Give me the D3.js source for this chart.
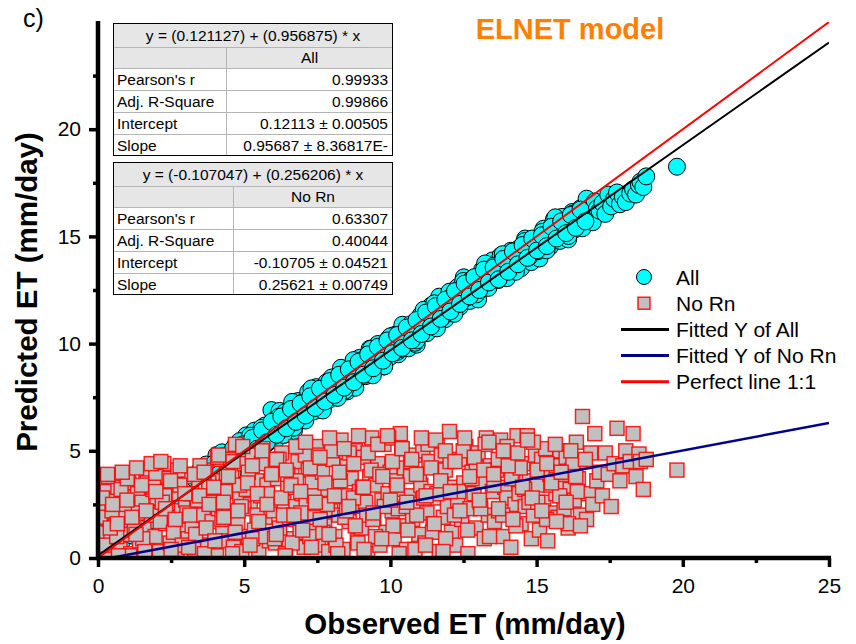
<!DOCTYPE html>
<html>
<head>
<meta charset="utf-8">
<script src="https://cdn.jsdelivr.net/npm/d3@7"></script>
<style>
  body { margin: 0; background: #fff; }
  svg { font-family: Arial, "Liberation Sans", sans-serif; }
</style>
</head>
<body>
<svg id="chart"></svg>
<script>
// observed ET, predicted ET with all inputs, predicted ET without Rn
const observed = [
  0.05, 0.12, 0.18, 0.25, 0.31, 0.38, 0.44, 0.52, 0.60, 0.68,
  0.75, 0.82, 0.90, 0.97, 1.05, 1.12, 1.20, 1.27, 1.35, 1.42,
  1.50, 1.57, 1.64, 1.72, 1.80, 1.87, 1.95, 2.02, 2.10, 2.18,
  2.25, 2.32, 2.40, 2.47, 2.55, 2.62, 2.70, 2.77, 2.85, 2.92,
  3.00, 3.08, 3.15, 3.22, 3.30, 3.38, 3.45, 3.52, 3.60, 3.68,
  3.75, 3.82, 3.90, 3.97, 4.05, 4.12, 4.20, 4.27, 4.35, 4.42,
  4.50, 4.57, 4.63, 4.70, 4.78, 4.85, 4.92, 5.00, 5.07, 5.14,
  5.21, 5.28, 5.35, 5.42, 5.50, 5.57, 5.64, 5.71, 5.78, 5.86,
  5.93, 6.00, 6.07, 6.14, 6.21, 6.28, 6.35, 6.42, 6.49, 6.56,
  6.63, 6.70, 6.77, 6.84, 6.91, 6.98, 7.05, 7.12, 7.19, 7.26,
  7.33, 7.40, 7.47, 7.54, 7.61, 7.68, 7.75, 7.82, 7.89, 7.96,
  8.03, 8.10, 8.17, 8.24, 8.31, 8.38, 8.45, 8.52, 8.59, 8.66,
  8.73, 8.80, 8.87, 8.94, 9.01, 9.08, 9.15, 9.22, 9.29, 9.36,
  9.43, 9.50, 9.57, 9.64, 9.71, 9.78, 9.85, 9.92, 9.99, 10.06,
  10.13, 10.20, 10.27, 10.34, 10.41, 10.48, 10.55, 10.62, 10.69, 10.76,
  10.83, 10.90, 10.97, 11.04, 11.11, 11.18, 11.25, 11.32, 11.39, 11.46,
  11.53, 11.60, 11.67, 11.74, 11.81, 11.88, 11.95, 12.02, 12.09, 12.16,
  12.23, 12.30, 12.37, 12.44, 12.51, 12.58, 12.65, 12.72, 12.79, 12.86,
  12.93, 13.00, 13.07, 13.14, 13.21, 13.28, 13.35, 13.42, 13.49, 13.56,
  13.63, 13.70, 13.77, 13.84, 13.91, 13.98, 14.05, 14.12, 14.19, 14.26,
  14.33, 14.40, 14.47, 14.54, 14.61, 14.68, 14.75, 14.82, 14.89, 14.96,
  15.03, 15.10, 15.17, 15.24, 15.31, 15.38, 15.45, 15.52, 15.59, 15.66,
  15.73, 15.80, 15.87, 15.94, 16.01, 16.08, 16.15, 16.22, 16.29, 16.36,
  16.43, 16.50, 16.57, 16.64, 16.71, 16.78, 16.85, 16.92, 16.99, 17.06,
  17.15, 17.25, 17.35, 17.45, 17.55, 17.65, 17.75, 17.85, 17.95, 18.05,
  18.20, 18.30, 18.40, 18.50, 18.55, 18.65, 18.75, 19.80,
  0.08, 0.22, 0.35, 0.48, 0.64, 0.79, 0.93, 1.08, 1.24, 1.38,
  1.53, 1.68, 1.83, 1.98, 2.13, 2.28, 2.43, 2.58, 2.73, 2.88,
  3.04, 3.19, 3.34, 3.49, 3.64, 3.79, 3.94, 4.09, 4.24, 4.39,
  4.54, 4.69, 4.84, 4.99, 5.14, 5.29, 5.44, 5.59, 5.74, 5.89,
  6.04, 6.19, 6.34, 6.49, 6.64, 6.79, 6.94, 7.09, 7.24, 7.39,
  7.54, 7.69, 7.84, 7.99, 8.14, 8.29, 8.44, 8.59, 8.74, 8.89,
  9.04, 9.19, 9.34, 9.49, 9.64, 9.79, 9.94, 10.09, 10.24, 10.39,
  10.54, 10.69, 10.84, 10.99, 11.14, 11.29, 11.44, 11.59, 11.74, 11.89,
  12.04, 12.19, 12.34, 12.49, 12.64, 12.79, 12.94, 13.09, 13.24, 13.39,
  13.54, 13.69, 13.84, 13.99, 14.14, 14.29, 14.44, 14.59, 14.74, 14.89,
  15.04, 15.19, 15.34, 15.49, 15.64, 15.79, 15.94, 16.09, 16.24, 16.39,
  0.15, 0.42, 0.70, 1.00, 1.30, 1.60, 1.90, 2.20, 2.50, 2.80,
  3.10, 3.40, 3.70, 4.00, 4.30, 4.60, 4.90, 5.20, 5.50, 5.80,
  6.10, 6.40, 6.70, 7.00, 7.30, 7.60, 7.90, 8.20, 8.50, 8.80,
  9.10, 9.40, 9.70, 10.00, 10.30, 10.60, 10.90, 11.20, 11.50, 11.80,
  0.33, 0.50, 0.66, 0.83, 0.99, 1.16, 1.32, 1.49, 1.65, 1.82,
  1.98, 2.15, 2.31, 2.48, 2.64, 2.81, 2.97, 3.14, 3.30, 3.47,
  3.63, 3.80, 3.96, 4.13, 4.29, 4.46, 4.62, 4.79, 4.95, 5.12,
  5.28, 5.45, 5.61, 5.78, 5.94, 6.11, 6.27, 6.44, 6.60, 6.77,
  6.93, 7.10, 7.26, 7.43, 7.59, 7.76, 7.92, 8.09, 8.25, 8.42,
  8.58, 8.75, 8.91, 9.08, 9.24, 9.41, 9.57, 9.74, 9.90, 10.07,
  10.23, 10.40, 10.56, 10.73, 10.89, 11.06, 11.22, 11.39, 11.55, 11.72,
  11.88, 12.05, 12.21, 12.38, 12.54, 12.71, 12.87, 13.04, 13.20, 13.37,
  13.53, 13.70, 13.86, 14.03, 14.19, 14.36, 14.52, 14.69, 14.85, 15.02,
  15.18, 15.35, 15.51, 15.68, 15.84, 16.01, 16.17, 16.34, 16.50, 16.67
];

const predAll = [
  0.17, 0.25, 0.31, 0.36, 0.44, 0.47, 0.55, 0.63, 0.70, 0.78,
  0.86, 0.90, 1.00, 1.07, 1.14, 1.20, 1.28, 1.36, 1.42, 1.50,
  1.56, 1.64, 1.70, 1.79, 1.86, 1.92, 2.00, 2.07, 2.14, 2.23,
  2.30, 2.36, 2.46, 2.52, 2.58, 2.66, 2.74, 2.80, 2.88, 2.95,
  3.44, 2.72, 3.84, 3.05, 3.53, 2.81, 3.52, 4.09, 3.27, 3.84,
  3.51, 4.33, 3.40, 4.27, 4.80, 3.96, 4.29, 3.71, 4.68, 4.35,
  4.73, 3.89, 4.60, 5.27, 4.45, 5.21, 4.43, 5.11, 5.72, 4.89,
  5.56, 4.82, 5.94, 5.16, 5.63, 4.90, 5.62, 6.18, 5.35, 5.93,
  6.90, 6.41, 5.48, 6.35, 6.86, 6.03, 6.35, 5.76, 6.73, 6.40,
  6.77, 5.93, 6.65, 7.32, 6.48, 7.25, 6.47, 7.13, 7.75, 6.92,
  7.59, 6.85, 7.97, 7.19, 7.65, 6.92, 7.64, 8.20, 7.37, 7.94,
  7.61, 8.42, 7.49, 8.36, 8.87, 8.04, 8.36, 7.77, 8.74, 8.41,
  8.78, 7.94, 8.66, 9.33, 8.49, 9.26, 8.48, 9.14, 9.76, 8.93,
  9.59, 8.86, 9.98, 9.20, 9.66, 8.93, 9.65, 10.21, 9.38, 9.95,
  9.61, 10.43, 9.50, 10.37, 10.88, 10.05, 10.37, 9.78, 10.75, 10.42,
  10.78, 9.95, 10.67, 11.34, 10.50, 11.27, 10.49, 11.15, 11.77, 10.94,
  11.80, 11.07, 12.19, 11.41, 11.87, 11.14, 11.86, 12.42, 11.59, 12.16,
  11.82, 12.64, 11.71, 12.58, 13.09, 12.26, 12.58, 11.99, 12.96, 12.63,
  12.89, 12.06, 12.78, 13.45, 12.61, 13.38, 12.60, 13.26, 13.88, 13.05,
  13.71, 12.98, 14.10, 13.32, 13.78, 13.05, 13.77, 14.33, 13.50, 14.07,
  13.63, 14.45, 13.52, 14.39, 14.90, 14.07, 14.39, 13.80, 14.77, 14.44,
  14.80, 13.97, 14.69, 15.36, 14.52, 15.29, 14.51, 15.17, 15.79, 14.96,
  15.52, 14.79, 15.91, 15.12, 15.59, 14.86, 15.58, 16.14, 15.31, 15.88,
  15.49, 16.31, 15.38, 16.24, 16.76, 15.93, 16.25, 15.66, 16.63, 16.30,
  16.20, 16.55, 16.05, 16.95, 16.40, 16.75, 17.05, 16.50, 16.85, 16.60,
  17.00, 17.20, 16.95, 17.40, 17.55, 17.30, 17.80, 18.25,
  0.20, 0.33, 0.45, 0.58, 0.73, 0.88, 1.02, 1.16, 1.30, 1.45,
  1.60, 1.74, 1.88, 2.03, 2.18, 2.31, 2.45, 2.60, 2.76, 2.90,
  3.33, 2.57, 3.37, 4.11, 3.35, 4.20, 3.49, 4.24, 4.93, 4.17,
  4.92, 4.26, 5.45, 4.75, 5.29, 4.63, 5.43, 6.07, 5.31, 5.96,
  5.70, 6.59, 5.74, 6.68, 7.28, 6.52, 6.91, 6.41, 7.45, 7.19,
  7.64, 6.88, 7.67, 8.42, 7.66, 8.50, 7.80, 8.54, 9.23, 8.48,
  9.22, 8.56, 9.76, 9.05, 9.60, 8.94, 9.73, 10.38, 9.62, 10.26,
  10.01, 10.90, 10.04, 10.99, 11.58, 10.82, 11.22, 10.71, 11.76, 11.50,
  12.14, 11.39, 12.18, 12.92, 12.17, 13.01, 12.30, 13.05, 13.74, 12.98,
  13.63, 12.97, 14.17, 13.46, 14.00, 13.35, 14.14, 14.78, 14.03, 14.67,
  14.31, 15.21, 14.35, 15.29, 15.89, 15.13, 15.52, 15.02, 16.06, 15.81,
  0.27, 0.52, 0.78, 1.08, 1.36, 1.66, 1.94, 2.24, 2.52, 2.80,
  3.54, 3.02, 4.36, 3.80, 4.49, 3.97, 4.91, 5.70, 5.08, 5.87,
  5.76, 6.80, 6.08, 7.17, 7.91, 7.29, 7.83, 7.47, 8.66, 8.54,
  9.13, 8.52, 9.45, 10.34, 9.73, 10.71, 10.15, 11.04, 11.88, 11.26,
  0.60, 0.45, 0.95, 0.80, 1.25, 1.05, 1.55, 1.40, 1.90, 1.75,
  2.20, 1.95, 2.60, 2.30, 2.90, 2.55, 3.35, 2.95, 3.70, 3.30,
  4.05, 3.55, 4.40, 3.90, 4.75, 4.20, 5.10, 4.55, 5.30, 4.85,
  5.60, 5.10, 5.95, 5.40, 6.35, 5.75, 6.60, 6.05, 6.95, 6.35,
  7.20, 6.65, 7.55, 7.00, 7.90, 7.30, 8.25, 7.60, 8.55, 7.95,
  8.80, 8.20, 9.15, 8.55, 9.50, 8.85, 9.85, 9.20, 10.15, 9.55,
  10.40, 9.80, 10.75, 10.15, 11.10, 10.45, 11.45, 10.80, 11.75, 11.15,
  12.05, 11.50, 12.45, 11.85, 12.80, 12.20, 13.10, 12.50, 13.45, 12.85,
  13.55, 13.00, 13.95, 13.35, 14.30, 13.70, 14.60, 14.00, 14.90, 14.35,
  15.05, 14.55, 15.45, 14.90, 15.70, 15.15, 16.00, 15.40, 16.25, 15.70
];

const predNoRn = [
  3.6, 1.2, 2.4, 0.3, 3.1, 1.8, 0.9, 2.7, 1.5, 3.3,
  0.4, 2.0, 2.9, 1.1, 3.5, 0.2, 2.3, 1.7, 3.0, 0.8,
  2.6, 1.4, 4.0, 0.5, 2.1, 3.2, 1.0, 2.8, 0.3, 3.9,
  4.4, 1.6, 2.5, 0.7, 3.4, 1.9, 0.2, 3.0, 2.2, 1.3,
  2.7, 0.9, 3.8, 1.5, 0.4, 2.4, 3.3, 1.1, 2.0, 4.1,
  0.6, 2.9, 1.7, 3.6, 0.1, 2.3, 4.6, 1.2, 3.1, 0.8,
  2.1, 3.9, 0.5, 5.3, 1.6, 2.8, 0.3, 4.4, 3.2, 1.0,
  2.5, 4.8, 1.3, 3.6, 0.4, 2.9, 5.1, 1.9, 3.4, 0.8,
  4.2, 2.2, 0.7, 3.7, 1.4, 4.9, 2.6, 0.2, 3.3, 1.8,
  3.9, 0.9, 2.4, 4.5, 1.2, 3.0, 0.5, 2.7, 4.1, 1.6,
  3.5, 1.9, 5.2, 0.6, 2.8, 4.0, 1.5, 3.2, 0.3, 2.2,
  4.6, 1.0, 3.3, 2.0, 5.5, 0.4, 2.9, 4.3, 1.7, 3.7,
  2.4, 5.0, 0.8, 3.1, 1.4, 4.7, 2.6, 0.2, 3.8, 5.6,
  1.9, 3.4, 4.4, 0.6, 2.7, 5.3, 1.2, 3.0, 4.0, 2.2,
  0.9, 3.6, 2.3, 5.8, 1.5, 4.2, 0.4, 2.9, 3.8, 1.8,
  4.8, 2.5, 1.1, 3.4, 5.0, 0.7, 2.1, 4.5, 3.1, 1.6,
  2.8, 5.4, 0.3, 3.7, 1.9, 4.1, 2.4, 5.9, 1.2, 3.3,
  0.6, 2.7, 4.6, 1.8, 3.5, 5.2, 0.2, 2.3, 4.0, 3.0,
  1.4, 4.9, 2.6, 3.6, 0.9, 5.6, 2.0, 4.3, 3.1, 1.7,
  4.1, 2.2, 5.5, 1.0, 3.3, 2.8, 4.7, 0.5, 3.9, 2.5,
  5.7, 3.0, 1.6, 4.4, 2.4, 5.7, 3.6, 0.9, 2.0, 4.8,
  3.4, 1.3, 4.6, 2.6, 5.1, 0.8, 3.9, 2.1, 4.3, 3.0,
  1.9, 5.0, 3.5, 2.3, 4.7, 1.4, 3.2, 4.1, 2.7, 5.4,
  3.7, 2.0, 6.6, 4.5, 1.8, 3.0, 4.9, 2.5, 5.8, 3.6,
  4.0, 2.9, 4.9, 3.9, 2.4, 4.4, 6.05, 3.6, 4.3, 5.0,
  4.5, 5.8, 3.8, 4.85, 4.5, 3.2, 4.6, 4.1,
  1.9, 0.6, 3.8, 2.2, 1.0, 3.2, 2.5, 0.1, 1.3, 2.1,
  0.9, 3.5, 2.0, 3.8, 1.7, 2.9, 3.7, 1.2, 4.1, 0.6,
  2.1, 3.0, 1.1, 4.3, 0.2, 3.5, 2.6, 4.7, 1.8, 3.9,
  4.6, 1.2, 3.4, 2.3, 4.0, 0.9, 2.0, 4.4, 1.0, 2.7,
  0.9, 4.6, 2.0, 3.9, 0.7, 3.6, 2.1, 4.8, 1.0, 2.9,
  4.8, 1.2, 2.5, 5.0, 0.6, 3.6, 1.9, 4.9, 2.8, 0.7,
  3.3, 2.0, 4.1, 1.0, 3.9, 2.4, 5.6, 1.5, 3.2, 5.1,
  2.4, 4.5, 0.4, 3.9, 2.8, 5.3, 1.2, 3.0, 4.8, 0.9,
  4.5, 2.0, 3.1, 5.0, 1.3, 3.7, 4.2, 2.3, 5.3, 1.0,
  3.4, 4.6, 2.0, 5.2, 3.7, 1.5, 4.2, 3.2, 2.6, 5.4,
  2.6, 4.0, 1.8, 3.4, 5.3, 2.9, 3.9, 1.6, 4.4, 3.1,
  2.8, 1.4, 0.1, 3.7, 1.1, 0.3, 3.3, 2.6, 0.4, 3.4,
  0.5, 2.7, 1.4, 0.8, 1.9, 0.2, 2.4, 0.6, 1.7, 3.0,
  1.1, 0.1, 2.0, 1.3, 0.5, 1.8, 1.1, 0.2, 2.2, 1.5,
  0.4, 1.8, 0.9, 2.7, 0.2, 1.3, 2.0, 0.6, 1.6, 0.3,
  3.9, 2.5, 1.6, 4.0, 2.7, 1.9, 4.2, 3.4, 2.2, 4.4,
  3.1, 4.5, 2.3, 3.6, 1.8, 4.3, 3.0, 2.0, 3.9, 2.9,
  4.0, 2.5, 3.3, 4.8, 2.6, 3.8, 4.5, 2.2, 5.2, 3.5,
  4.3, 3.0, 5.0, 2.5, 3.9, 4.6, 2.8, 4.1, 3.4, 5.2,
  3.1, 5.4, 4.2, 2.6, 4.7, 3.5, 5.6, 2.9, 4.0, 5.1,
  2.4, 4.4, 5.7, 3.3, 4.9, 2.1, 5.3, 3.8, 5.7, 4.5,
  3.4, 5.1, 2.6, 4.6, 3.9, 5.6, 2.9, 4.2, 5.5, 3.6,
  5.0, 3.1, 4.5, 2.2, 5.6, 3.8, 4.7, 2.7, 4.1, 5.4,
  3.9, 2.3, 5.0, 4.3, 1.8, 4.9, 3.3, 5.5, 2.8, 4.1,
  2.2, 4.4, 3.5, 1.7, 4.0, 2.6, 5.0, 3.8, 1.5, 4.6
];

const xTicks = [0, 5, 10, 15, 20, 25];
const yTicks = [0, 5, 10, 15, 20];
const minorTicks = [2.5, 7.5, 12.5, 17.5, 22.5];

// linear fits reported in the tables
const fitAll = { intercept: 0.121127, slope: 0.956875 };
const fitNoRn = { intercept: -0.107047, slope: 0.256206 };

const tableAllTitle = "y = (0.121127) + (0.956875) * x";
const tableAllRows = [
  ["Pearson's r", "0.99933"],
  ["Adj. R-Square", "0.99866"],
  ["Intercept", "0.12113 \u00b1 0.00505"],
  ["Slope", "0.95687 \u00b1 8.36817E-"]
];
const tableNoRnTitle = "y = (-0.107047) + (0.256206) * x";
const tableNoRnRows = [
  ["Pearson's r", "0.63307"],
  ["Adj. R-Square", "0.40044"],
  ["Intercept", "-0.10705 \u00b1 0.04521"],
  ["Slope", "0.25621 \u00b1 0.00749"]
];

const W = 856, H = 644;
const margin = { top: 22, right: 27, bottom: 86, left: 98 };

const svg = d3.select('#chart').attr('width', W).attr('height', H);

const x = d3.scaleLinear().domain([0, 25]).range([margin.left, W - margin.right]);
const y = d3.scaleLinear().domain([0, 25]).range([H - margin.bottom, margin.top]);

svg.append('defs').append('clipPath').attr('id', 'plot-clip')
  .append('rect')
    .attr('x', x(0)).attr('y', y(25))
    .attr('width', x(25) - x(0)).attr('height', y(0) - y(25));

const plot = svg.append('g').attr('clip-path', 'url(#plot-clip)');

const points = observed.map((o, i) => ({ obs: o, all: predAll[i], noRn: predNoRn[i] }));

// All (cyan circles)
plot.append('g').selectAll('circle')
  .data(points)
  .join('circle')
    .attr('cx', d => x(d.obs))
    .attr('cy', d => y(d.all))
    .attr('r', 8.5)
    .attr('fill', '#00ffff')
    .attr('stroke', '#000')
    .attr('stroke-width', 1);

// No Rn (grey squares)
const sq = 14;
plot.append('g').selectAll('rect')
  .data(points)
  .join('rect')
    .attr('x', d => x(d.obs) - sq / 2)
    .attr('y', d => y(d.noRn) - sq / 2)
    .attr('width', sq)
    .attr('height', sq)
    .attr('fill', '#c0c0c0')
    .attr('stroke', '#ff0000')
    .attr('stroke-opacity', 0.85)
    .attr('stroke-width', 1.5);

// fitted and 1:1 lines
const line = d3.line().x(d => x(d[0])).y(d => y(d[1]));
const xs = x.domain();
const lines = [
  { pts: xs.map(v => [v, fitAll.intercept + fitAll.slope * v]), color: '#000', w: 2 },
  { pts: xs.map(v => [v, fitNoRn.intercept + fitNoRn.slope * v]), color: '#00008b', w: 2.5 },
  { pts: xs.map(v => [v, v]), color: '#ff0000', w: 2 }
];
plot.append('g').selectAll('path')
  .data(lines)
  .join('path')
    .attr('d', d => line(d.pts))
    .attr('fill', 'none')
    .attr('stroke', d => d.color)
    .attr('stroke-width', d => d.w);

// axes
const fontFamily = 'Arial, "Liberation Sans", sans-serif';
const xAxisG = svg.append('g')
  .attr('transform', `translate(0,${y(0)})`)
  .call(d3.axisBottom(x).tickValues(xTicks).tickSize(9).tickSizeOuter(0).tickPadding(11));
const xMinorG = svg.append('g')
  .attr('transform', `translate(0,${y(0)})`)
  .call(d3.axisBottom(x).tickValues(minorTicks).tickSize(5).tickFormat(''));
const yAxisG = svg.append('g')
  .attr('transform', `translate(${x(0)},0)`)
  .call(d3.axisLeft(y).tickValues(yTicks).tickSize(9).tickSizeOuter(0).tickPadding(8));
const yMinorG = svg.append('g')
  .attr('transform', `translate(${x(0)},0)`)
  .call(d3.axisLeft(y).tickValues(minorTicks).tickSize(5).tickFormat(''));

[xAxisG, xMinorG, yAxisG, yMinorG].forEach(g => {
  g.select('.domain').remove();
  g.selectAll('.tick line').attr('stroke', '#000').attr('stroke-width', 3.5);
  g.selectAll('.tick text').attr('font-size', 21).attr('font-family', fontFamily).attr('fill', '#000');
});

svg.append('line')
  .attr('x1', x(0)).attr('x2', x(0))
  .attr('y1', y(25) - 1).attr('y2', y(0) + 2)
  .attr('stroke', '#000').attr('stroke-width', 4.5);
svg.append('line')
  .attr('x1', x(0) - 2).attr('x2', x(25) + 2)
  .attr('y1', y(0)).attr('y2', y(0))
  .attr('stroke', '#000').attr('stroke-width', 4.5);

// axis titles
svg.append('text')
  .attr('x', 465)
  .attr('y', 634)
  .attr('text-anchor', 'middle')
  .attr('font-size', 29.5)
  .attr('font-weight', 'bold')
  .text('Observed ET (mm/day)');

svg.append('text')
  .attr('transform', `translate(37,292) rotate(-90)`)
  .attr('text-anchor', 'middle')
  .attr('font-size', 29.5)
  .attr('font-weight', 'bold')
  .text('Predicted ET (mm/day)');

svg.append('text')
  .attr('x', 23).attr('y', 27)
  .attr('font-size', 25)
  .text('c)');

svg.append('text')
  .attr('x', 570).attr('y', 39)
  .attr('text-anchor', 'middle')
  .attr('font-size', 29)
  .attr('font-weight', 'bold')
  .attr('fill', '#ff8000')
  .text('ELNET model');

// statistics tables
function drawTable(top, divider, title, label, rows) {
  const left = 113, right = 393;
  const rowH = 22, headH = 24, subH = 21;
  const g = svg.append('g').attr('font-size', 15.5);
  const height = headH + subH + rows.length * rowH;
  g.append('rect').attr('x', left).attr('y', top).attr('width', right - left).attr('height', height)
    .attr('fill', '#fff');
  g.append('rect').attr('x', left).attr('y', top).attr('width', right - left).attr('height', headH + subH)
    .attr('fill', '#e6e6e6');
  // grid lines
  const ys = [top + headH, top + headH + subH].concat(rows.map((r, i) => top + headH + subH + (i + 1) * rowH)).slice(0, -1);
  g.selectAll('line.h').data(ys).join('line')
    .attr('x1', left).attr('x2', right).attr('y1', d => d + 0.5).attr('y2', d => d + 0.5)
    .attr('stroke', '#b4b4b4').attr('stroke-width', 1);
  g.append('line')
    .attr('x1', divider + 0.5).attr('x2', divider + 0.5)
    .attr('y1', top + headH).attr('y2', top + height)
    .attr('stroke', '#b4b4b4');
  g.append('rect').attr('x', left + 0.5).attr('y', top + 0.5)
    .attr('width', right - left - 1).attr('height', height - 1)
    .attr('fill', 'none').attr('stroke', '#000').attr('stroke-width', 1);
  g.append('text').attr('x', (left + right) / 2).attr('y', top + headH / 2)
    .attr('dy', '0.36em').attr('text-anchor', 'middle').text(title);
  g.append('text').attr('x', (divider + right) / 2).attr('y', top + headH + subH / 2)
    .attr('dy', '0.36em').attr('text-anchor', 'middle').text(label);
  rows.forEach((r, i) => {
    const cy = top + headH + subH + i * rowH + rowH / 2;
    g.append('text').attr('x', left + 4).attr('y', cy).attr('dy', '0.36em').text(r[0]);
    g.append('text').attr('x', right - 5).attr('y', cy).attr('dy', '0.36em')
      .attr('text-anchor', 'end').text(r[1]);
  });
}
drawTable(23, 226, tableAllTitle, 'All', tableAllRows);
drawTable(162, 233, tableNoRnTitle, 'No Rn', tableNoRnRows);

// legend
const legendItems = [
  { label: 'All', type: 'circle' },
  { label: 'No Rn', type: 'square' },
  { label: 'Fitted Y of All', type: 'line', color: '#000' },
  { label: 'Fitted Y of No Rn', type: 'line', color: '#00008b' },
  { label: 'Perfect line 1:1', type: 'line', color: '#ff0000' }
];
const legend = svg.append('g').attr('transform', 'translate(621,277)');
legendItems.forEach((d, i) => {
  const row = legend.append('g').attr('transform', `translate(0,${i * 26.2})`);
  if (d.type === 'circle') {
    row.append('circle').attr('cx', 23).attr('cy', 0).attr('r', 7.5)
      .attr('fill', '#00ffff').attr('stroke', '#000');
  } else if (d.type === 'square') {
    row.append('rect').attr('x', 17).attr('y', -6).attr('width', 12).attr('height', 12)
      .attr('fill', '#c0c0c0').attr('stroke', '#ff0000').attr('stroke-width', 1.3);
  } else {
    row.append('line').attr('x1', 0).attr('x2', 48).attr('y1', 0).attr('y2', 0)
      .attr('stroke', d.color).attr('stroke-width', 3);
  }
  row.append('text').attr('x', 55).attr('y', 0).attr('dy', '0.36em')
    .attr('font-size', 21).text(d.label);
});
</script>
</body>
</html>
